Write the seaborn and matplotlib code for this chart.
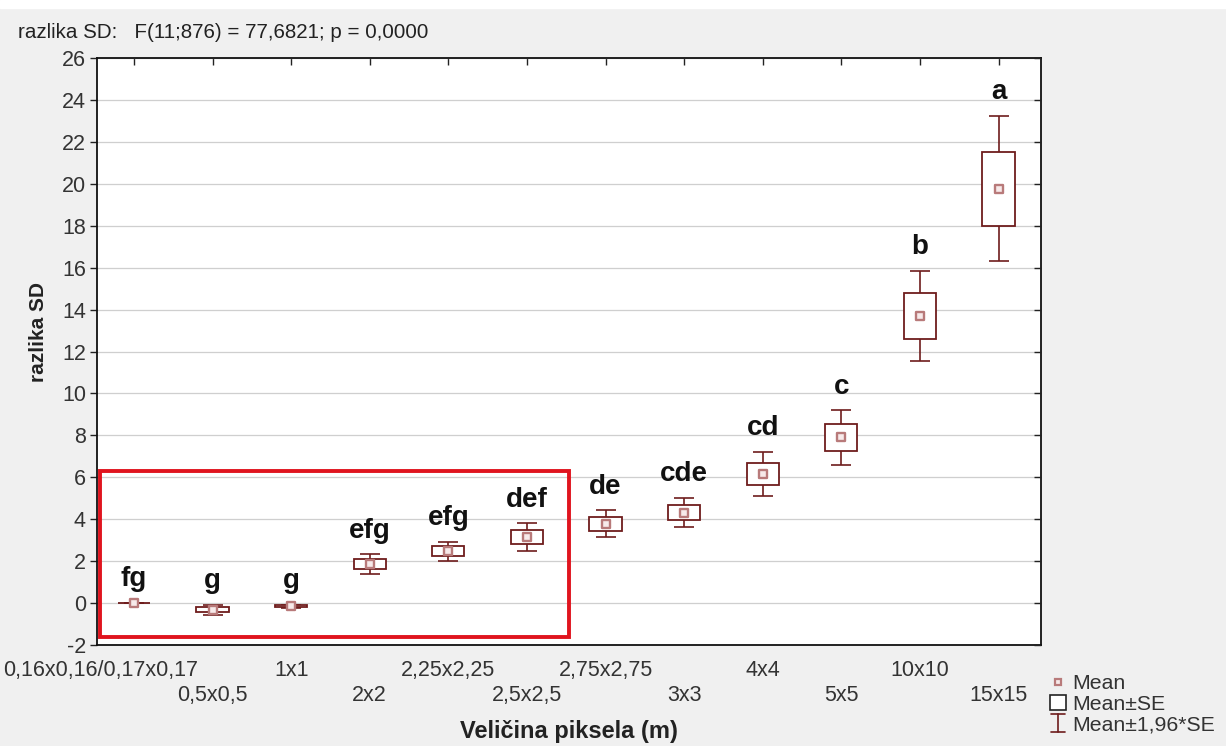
import numpy as np
import pandas as pd
import seaborn as sns
import matplotlib
matplotlib.use("Agg")
import matplotlib.pyplot as plt
from matplotlib.patches import Rectangle
from matplotlib.lines import Line2D
from matplotlib.legend_handler import HandlerBase
from matplotlib.transforms import ScaledTranslation

# ---------------- data ----------------
categories = ["0,16x0,16/0,17x0,17", "0,5x0,5", "1x1", "2x2", "2,25x2,25", "2,5x2,5",
              "2,75x2,75", "3x3", "4x4", "5x5", "10x10", "15x15"]
means = [0.0, -0.31, -0.15, 1.86, 2.47, 3.15, 3.78, 4.32, 6.15, 7.9, 13.7, 19.77]
se = [0.01, 0.12, 0.04, 0.24, 0.23, 0.33, 0.33, 0.36, 0.54, 0.66, 1.1, 1.77]
letters = ["fg", "g", "g", "efg", "efg", "def", "de", "cde", "cd", "c", "b", "a"]
y_ticks = list(range(-2, 27, 2))
title_text = "razlika SD:   F(11;876) = 77,6821; p = 0,0000"
x_label = "Veličina piksela (m)"
y_label = "razlika SD"
legend_labels = ["Mean", "Mean±SE", "Mean±1,96*SE"]
highlight = {"x0": -0.43, "x1": 5.53, "y0": -1.6, "y1": 6.3}

# ---------------- style ----------------
sns.set_theme(style="white")
plt.rcParams["font.family"] = ["Liberation Sans", "DejaVu Sans"]

maroon = "#6e1c1c"
mean_edge = "#b87a7a"
mean_face = "#f7eaea"
txt = "#333333"

df = pd.DataFrame({"cat": categories, "x": np.arange(len(categories)),
                   "mean": means, "se": se})
df["ci"] = 1.96 * df["se"]

W, H = 1226, 746
fig = plt.figure(figsize=(W / 100, H / 100), dpi=100, facecolor="#f0f0f0")
fig.patches.append(Rectangle((0, 1 - 8 / H), 1, 8 / H, transform=fig.transFigure,
                             color="white", zorder=0))
ax = fig.add_axes([97 / W, 1 - 645 / H, (1041 - 97) / W, (645 - 58) / H])
ax.set_facecolor("white")

# whiskers (mean ± 1.96*SE)
ax.errorbar(df["x"], df["mean"], yerr=df["ci"], fmt="none", ecolor=maroon,
            elinewidth=1.2, capsize=7, capthick=1.2, zorder=2)
# SE boxes
ax.bar(df["x"], 2 * df["se"], bottom=df["mean"] - df["se"], width=0.41,
       color="white", edgecolor=maroon, linewidth=1.3, zorder=3)
# means
sns.scatterplot(data=df, x="x", y="mean", marker="s", s=30, color=mean_face,
                edgecolor=mean_edge, linewidth=1.7, zorder=4, ax=ax, legend=False)

# group letters
for xi, m, c, lt in zip(df["x"], df["mean"], df["ci"], letters):
    ax.annotate(lt, (xi, m + c), xytext=(0, 12), textcoords="offset points",
                ha="center", va="baseline", fontsize=20, fontweight="bold",
                color="#111111", zorder=5)

# highlight rectangle
ax.add_patch(Rectangle((highlight["x0"], highlight["y0"]),
                       highlight["x1"] - highlight["x0"],
                       highlight["y1"] - highlight["y0"],
                       fill=False, edgecolor="#e0141e", linewidth=2.8, zorder=6))

# axes
ax.set_xlim(-0.47, 11.54)
ax.set_ylim(-2, 26)
ax.set_yticks(y_ticks)
ax.set_yticklabels([str(t) for t in y_ticks], fontsize=15.5)
ax.set_xticks(df["x"])
ax.set_xticklabels(categories, fontsize=15.5)
ax.grid(axis="y", color="#cfcfcf", linewidth=0.9)
ax.grid(axis="x", visible=False)
ax.set_axisbelow(True)
ax.tick_params(axis="x", direction="in", length=5, width=1, top=True,
               colors="#222222", labelcolor=txt)
ax.tick_params(axis="y", direction="out", length=5, width=1, pad=3,
               colors="#222222", labelcolor=txt)
for sp in ax.spines.values():
    sp.set_color("#111111")
    sp.set_linewidth(1.3)

# staggered tick labels (two rows)
for i, tick in enumerate(ax.xaxis.get_major_ticks()):
    tick.set_pad(11 if i % 2 == 0 else 29)

ax2 = ax.twinx()
ax2.set_ylim(ax.get_ylim())
ax2.set_yticks(y_ticks)
ax2.tick_params(axis="y", direction="in", length=5, width=1, labelright=False,
                colors="#222222")
for sp in ax2.spines.values():
    sp.set_visible(False)

# shift first long tick label to the left as in reference
first = ax.get_xticklabels()[0]
first.set_transform(first.get_transform() + ScaledTranslation(-0.33, 0, fig.dpi_scale_trans))

ax.set_xlabel(x_label, fontsize=17, fontweight="bold", labelpad=10, color="#222222")
ax.set_ylabel(y_label, fontsize=15, fontweight="bold", color="#222222")
ax.yaxis.set_label_coords(-0.052, 0.533)

fig.text(18 / W, 1 - 33 / H, title_text, fontsize=14.8, va="center", ha="left",
         color="#222222")


# legend
class WhiskerHandler(HandlerBase):
    def create_artists(self, legend, orig_handle, xdescent, ydescent, width, height,
                       fontsize, trans):
        cx = width / 2 - xdescent
        y0 = -ydescent - 1
        y1 = height - ydescent + 1
        hw = width * 0.45
        arts = [Line2D([cx, cx], [y0, y1], color=maroon, lw=1.2),
                Line2D([cx - hw, cx + hw], [y0, y0], color=maroon, lw=1.2),
                Line2D([cx - hw, cx + hw], [y1, y1], color=maroon, lw=1.2)]
        for a in arts:
            a.set_transform(trans)
        return arts


class WhiskerKey:
    pass


h_mean = Line2D([], [], ls="", marker="s", markersize=5, mfc=mean_face,
                mec=mean_edge, mew=1.6)
h_box = Rectangle((0, 0), 1, 1, facecolor="white", edgecolor="#222222", linewidth=1.2)
h_wh = WhiskerKey()
fig.legend([h_mean, h_box, h_wh], legend_labels, loc="upper left",
           bbox_to_anchor=(1050 / W, 1 - 674 / H), frameon=False,
           handlelength=0.75, handletextpad=0.3, labelspacing=0.08, fontsize=15.3,
           borderpad=0, borderaxespad=0, handler_map={WhiskerKey: WhiskerHandler()},
           labelcolor=txt)

fig.savefig("out.png", dpi=100, facecolor=fig.get_facecolor())
